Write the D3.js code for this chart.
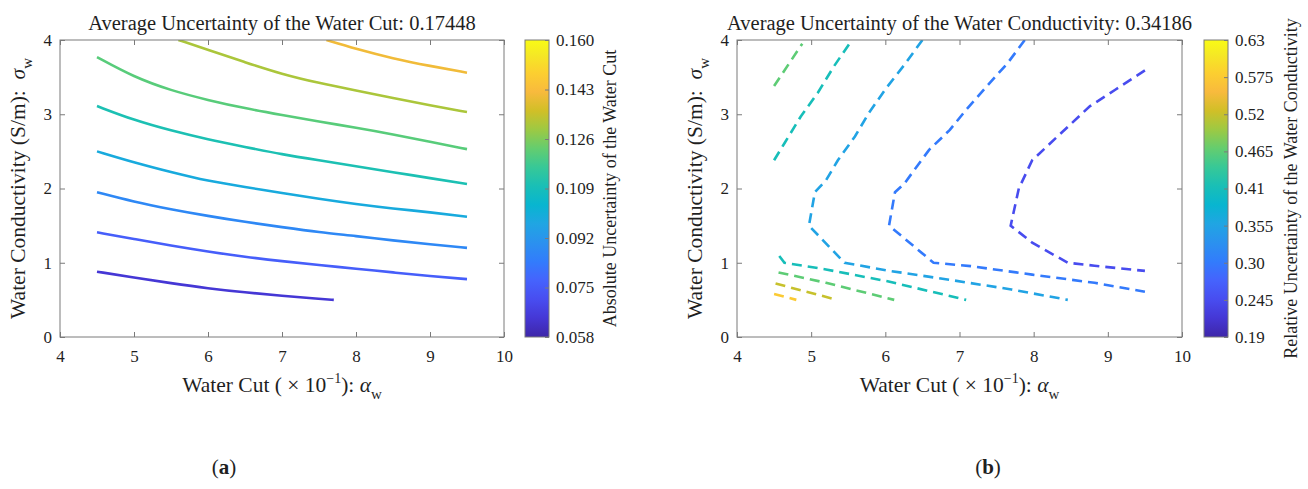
<!DOCTYPE html>
<html>
<head>
<meta charset="utf-8">
<script src="https://cdn.jsdelivr.net/npm/d3@7"></script>
<style>
  body { margin: 0; background: #fff; }
  text { font-family: "Liberation Serif", "Times New Roman", serif; fill: #1f1f1f; }
</style>
</head>
<body>
<script>
// ticks shared by both panels
var xTicks = [4, 5, 6, 7, 8, 9, 10];
var yTicks = [0, 1, 2, 3, 4];

// (a) absolute uncertainty of the water cut
var cutTickLabels = ["0.058", "0.075", "0.092", "0.109", "0.126", "0.143", "0.160"];
var cutLevels = [0.0645, 0.076, 0.0875, 0.099, 0.1105, 0.121, 0.131, 0.141];
var cutLines = [
  [[4.5, 0.88], [5.0, 0.80], [5.5, 0.725], [6.0, 0.655], [6.5, 0.60], [7.0, 0.555], [7.5, 0.515], [7.7, 0.50]],
  [[4.5, 1.41], [5.0, 1.32], [5.5, 1.23], [6.0, 1.15], [6.5, 1.08], [7.0, 1.02], [7.5, 0.97], [8.0, 0.92], [8.5, 0.87], [9.0, 0.82], [9.5, 0.78]],
  [[4.5, 1.95], [5.0, 1.82], [5.5, 1.72], [6.0, 1.63], [6.5, 1.55], [7.0, 1.48], [7.5, 1.41], [8.0, 1.36], [8.5, 1.30], [9.0, 1.25], [9.5, 1.20]],
  [[4.5, 2.50], [5.0, 2.35], [5.5, 2.22], [6.0, 2.10], [6.5, 2.02], [7.0, 1.94], [7.5, 1.86], [8.0, 1.79], [8.5, 1.73], [9.0, 1.68], [9.5, 1.62]],
  [[4.5, 3.11], [5.0, 2.92], [5.5, 2.78], [6.0, 2.66], [6.5, 2.56], [7.0, 2.46], [7.5, 2.38], [8.0, 2.30], [8.5, 2.22], [9.0, 2.14], [9.5, 2.06]],
  [[4.5, 3.77], [5.0, 3.50], [5.5, 3.32], [6.0, 3.19], [6.5, 3.08], [7.0, 2.99], [7.5, 2.90], [8.0, 2.82], [8.5, 2.73], [9.0, 2.63], [9.5, 2.53]],
  [[5.6, 4.00], [6.0, 3.87], [6.5, 3.70], [7.0, 3.54], [7.5, 3.42], [8.0, 3.32], [8.5, 3.22], [9.0, 3.12], [9.5, 3.03]],
  [[7.6, 4.00], [8.0, 3.88], [8.5, 3.75], [9.0, 3.65], [9.5, 3.56]]
];

// (b) relative uncertainty of the water conductivity
var condTickLabels = ["0.19", "0.245", "0.30", "0.355", "0.41", "0.465", "0.52", "0.575", "0.63"];
var condLevels = [0.245, 0.30, 0.355, 0.41, 0.41, 0.465, 0.465, 0.52, 0.575];
var condLines = [
  [[9.50, 3.59], [9.10, 3.33], [8.76, 3.11], [8.32, 2.70], [7.98, 2.38], [7.80, 2.00], [7.69, 1.50], [7.98, 1.27], [8.46, 1.00], [8.82, 0.96], [9.50, 0.89]],
  [[7.88, 4.00], [7.65, 3.69], [7.37, 3.38], [7.09, 3.06], [6.87, 2.79], [6.59, 2.52], [6.42, 2.29], [6.26, 2.07], [6.13, 1.95], [6.05, 1.50], [6.65, 1.00], [7.15, 0.955], [7.98, 0.84], [8.82, 0.73], [9.50, 0.61]],
  [[6.50, 4.00], [6.26, 3.67], [6.01, 3.35], [5.78, 3.02], [5.59, 2.70], [5.36, 2.38], [5.20, 2.11], [5.05, 1.95], [4.97, 1.50], [5.45, 1.00], [6.03, 0.895], [6.87, 0.77], [7.70, 0.64], [8.46, 0.50]],
  [[4.50, 2.38], [4.64, 2.61], [4.86, 2.97], [5.09, 3.29], [5.31, 3.65], [5.55, 4.00]],
  [[4.57, 1.09], [4.64, 1.00], [5.20, 0.91], [6.03, 0.75], [7.09, 0.50]],
  [[4.50, 3.38], [4.70, 3.68], [4.88, 3.95]],
  [[4.56, 0.87], [5.20, 0.73], [6.12, 0.50]],
  [[4.52, 0.72], [5.35, 0.50]],
  [[4.50, 0.58], [4.80, 0.50]]
];

// parula colormap, sampled from the 64 entry table
var parulaPos = [0, 4, 8, 12, 16, 20, 24, 28, 32, 36, 40, 44, 48, 52, 56, 60, 63].map(function(i) { return i / 63; });
var parulaCols = ["#3e26a8", "#4537d5", "#484df0", "#4563fd", "#327cfc", "#2b91ef", "#20a5e3", "#08b5d0",
                  "#19bfb6", "#37c897", "#64cd6f", "#9dc943", "#d1bf27", "#f8ba3d", "#fccf30", "#f5e924", "#f9fb15"];
var parula = d3.scaleLinear().domain(parulaPos).range(parulaCols).interpolate(d3.interpolateRgb);

var W = 1308, H = 489;
var plotTop = 40, plotBottom = 337;
var axisColor = "#7a7a7a";
var serif = "Liberation Serif, Times New Roman, serif";
var tickSize = 17;

var svg = d3.select("body").append("svg").attr("width", W).attr("height", H);

var defs = svg.append("defs");
var grad = defs.append("linearGradient").attr("id", "parula")
  .attr("x1", 0).attr("y1", 1).attr("x2", 0).attr("y2", 0);
parulaPos.forEach(function(p, i) {
  grad.append("stop").attr("offset", p).attr("stop-color", parulaCols[i]);
});

function styleAxis(g, size) {
  g.select(".domain").remove();
  g.selectAll(".tick line").attr("stroke", axisColor);
  g.attr("font-family", serif).attr("font-size", size);
  g.selectAll("text").attr("fill", "#262626").attr("font-family", serif);
}

function drawPanel(p) {
  var x = d3.scaleLinear().domain([4, 10]).range([p.left, p.right]);
  var y = d3.scaleLinear().domain([0, 4]).range([plotBottom, plotTop]);
  var cNorm = d3.scaleLinear().domain(p.cRange).range([0, 1]);
  var cy = d3.scaleLinear().domain(p.cRange).range([plotBottom, plotTop]);
  var cx = (p.left + p.right) / 2;
  var fmt = d3.format("d");

  defs.append("clipPath").attr("id", "clip-" + p.id).append("rect")
    .attr("x", p.left).attr("y", plotTop).attr("width", p.right - p.left).attr("height", plotBottom - plotTop);

  var line = d3.line().curve(p.curve)
    .x(function(d) { return x(d[0]); })
    .y(function(d) { return y(d[1]); });

  svg.append("g").attr("clip-path", "url(#clip-" + p.id + ")")
    .selectAll("path").data(p.lines).enter().append("path")
    .attr("d", line)
    .attr("fill", "none")
    .attr("stroke", function(d, i) { return parula(cNorm(p.levels[i])); })
    .attr("stroke-width", 2.6)
    .attr("stroke-dasharray", p.dash);

  // box with inward ticks on all sides
  svg.append("rect").attr("x", p.left).attr("y", plotTop)
    .attr("width", p.right - p.left).attr("height", plotBottom - plotTop)
    .attr("fill", "none").attr("stroke", axisColor).attr("stroke-width", 1);

  var gb = svg.append("g").attr("transform", "translate(0," + plotBottom + ")")
    .call(d3.axisBottom(x).tickValues(xTicks).tickFormat(fmt).tickSizeInner(-5).tickSizeOuter(0).tickPadding(13));
  styleAxis(gb, tickSize);
  var gt = svg.append("g").attr("transform", "translate(0," + plotTop + ")")
    .call(d3.axisTop(x).tickValues(xTicks).tickSizeInner(-5).tickSizeOuter(0).tickFormat(""));
  styleAxis(gt, tickSize);
  var gl = svg.append("g").attr("transform", "translate(" + p.left + ",0)")
    .call(d3.axisLeft(y).tickValues(yTicks).tickFormat(fmt).tickSizeInner(-5).tickSizeOuter(0).tickPadding(8));
  styleAxis(gl, tickSize);
  var gr = svg.append("g").attr("transform", "translate(" + p.right + ",0)")
    .call(d3.axisRight(y).tickValues(yTicks).tickSizeInner(-5).tickSizeOuter(0).tickFormat(""));
  styleAxis(gr, tickSize);

  // title
  svg.append("text").attr("x", cx).attr("y", 30).attr("text-anchor", "middle")
    .attr("font-size", 20.5).text(p.title);

  // x label
  var xl = svg.append("text").attr("x", cx).attr("y", 392).attr("text-anchor", "middle").attr("font-size", 21.5);
  xl.append("tspan").text("Water Cut (\u00a0\u00d7 10");
  xl.append("tspan").attr("dy", -9).attr("font-size", 14).text("\u22121");
  xl.append("tspan").attr("dy", 9).text("): ");
  xl.append("tspan").attr("font-style", "italic").text("\u03b1");
  xl.append("tspan").attr("dy", 7).attr("font-size", 15).text("w");

  // y label
  var yl = svg.append("text").attr("transform", "translate(" + (p.left - 35) + "," + ((plotTop + plotBottom) / 2) + ") rotate(-90)")
    .attr("text-anchor", "middle").attr("font-size", 21.5);
  yl.append("tspan").text("Water Conductivity (S/m):\u00a0\u00a0");
  yl.append("tspan").attr("font-style", "italic").text("\u03c3");
  yl.append("tspan").attr("dy", 7).attr("font-size", 15).text("w");

  // colorbar
  svg.append("rect").attr("x", p.cbLeft).attr("y", plotTop)
    .attr("width", p.cbWidth).attr("height", plotBottom - plotTop)
    .attr("fill", "url(#parula)").attr("stroke", axisColor).attr("stroke-width", 1);
  var gc = svg.append("g").attr("transform", "translate(" + (p.cbLeft + p.cbWidth) + ",0)")
    .call(d3.axisRight(cy).tickValues(p.cTicks.map(Number)).tickSizeInner(-4).tickSizeOuter(0).tickPadding(7)
      .tickFormat(function(d, i) { return p.cTicks[i]; }));
  styleAxis(gc, tickSize);

  svg.append("text").attr("transform", "translate(" + p.cbLabelX + "," + ((plotTop + plotBottom) / 2) + ") rotate(-90)")
    .attr("text-anchor", "middle").attr("font-size", 18).text(p.cbLabel);

  // panel letter
  var pl = svg.append("text").attr("x", p.letterX).attr("y", 474).attr("text-anchor", "middle").attr("font-size", 21);
  pl.append("tspan").text("(");
  pl.append("tspan").attr("font-weight", "bold").text(p.letter);
  pl.append("tspan").text(")");
}

drawPanel({
  id: "a", left: 60, right: 504, cbLeft: 525, cbWidth: 24, cbLabelX: 616,
  lines: cutLines, levels: cutLevels, cRange: [0.058, 0.160], cTicks: cutTickLabels,
  curve: d3.curveBasis, dash: null,
  title: "Average Uncertainty of the Water Cut: 0.17448",
  cbLabel: "Absolute Uncertainty of the Water Cut",
  letter: "a", letterX: 224
});

drawPanel({
  id: "b", left: 737, right: 1182, cbLeft: 1204, cbWidth: 24, cbLabelX: 1297,
  lines: condLines, levels: condLevels, cRange: [0.19, 0.63], cTicks: condTickLabels,
  curve: d3.curveLinear, dash: "10,6",
  title: "Average Uncertainty of the Water Conductivity: 0.34186",
  cbLabel: "Relative Uncertainty of the Water Conductivity",
  letter: "b", letterX: 988
});
</script>
</body>
</html>
